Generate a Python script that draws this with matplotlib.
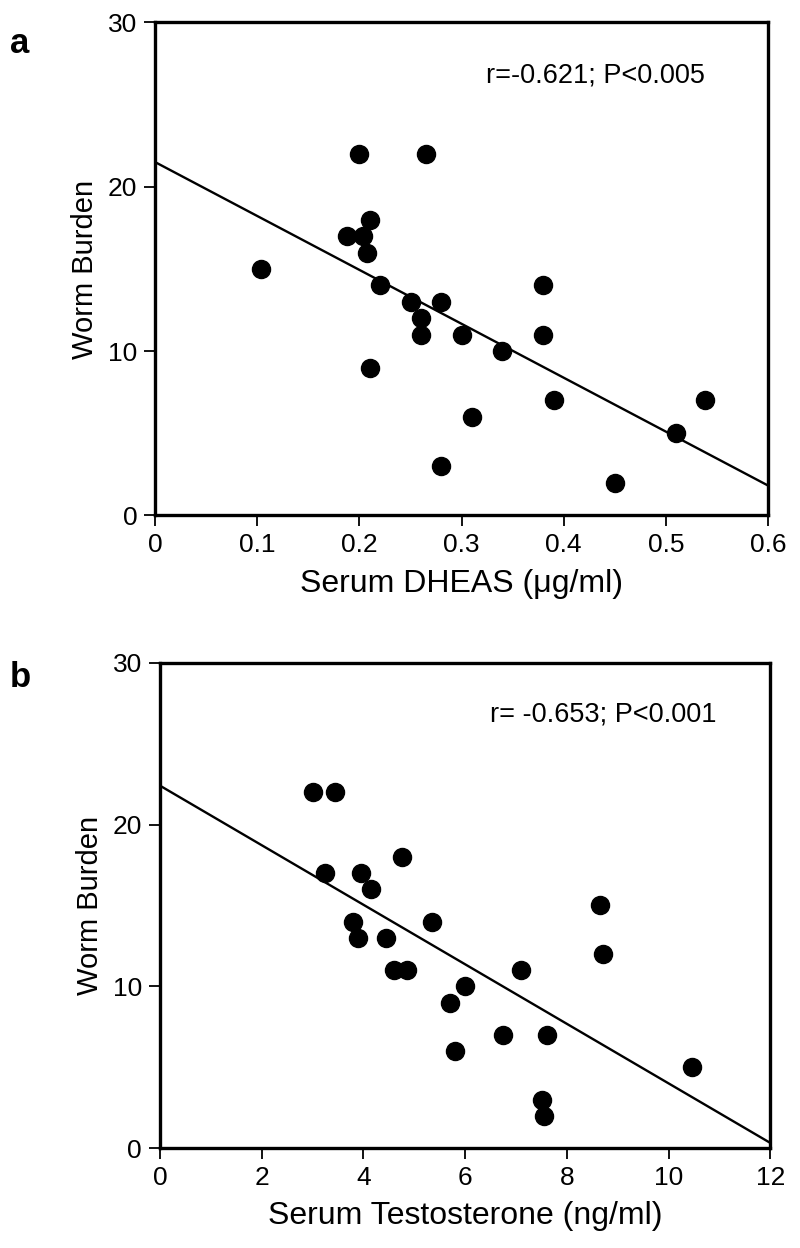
import numpy as np
import matplotlib.pyplot as plt

plt.rcParams['font.family'] = ['Liberation Sans', 'DejaVu Sans']

# panel a: DHEAS vs worm burden
dheas = [0.20, 0.265, 0.21, 0.188, 0.203, 0.207, 0.104, 0.22, 0.25, 0.28, 0.26, 0.26,
         0.30, 0.38, 0.38, 0.34, 0.21, 0.39, 0.538, 0.31, 0.51, 0.28, 0.45]
worm_a = [22, 22, 18, 17, 17, 16, 15, 14, 13, 13, 12, 11,
          11, 14, 11, 10, 9, 7, 7, 6, 5, 3, 2]
fit_a = (21.5, -32.8)   # intercept, slope
text_a = "r=-0.621; P<0.005"

# panel b: testosterone vs worm burden
testo = [3.0, 3.45, 3.25, 3.95, 4.75, 4.15, 3.8, 3.9, 4.45, 5.35, 4.6, 4.85,
         5.7, 6.0, 7.1, 8.65, 8.7, 5.8, 6.75, 7.6, 7.5, 7.55, 10.45]
worm_b = [22, 22, 17, 17, 18, 16, 14, 13, 13, 14, 11, 11,
          9, 10, 11, 15, 12, 6, 7, 7, 3, 2, 5]
fit_b = (22.4, -1.84)
text_b = "r= -0.653; P<0.001"

xticks_a = [0, 0.1, 0.2, 0.3, 0.4, 0.5, 0.6]
xticks_b = [0, 2, 4, 6, 8, 10, 12]
yticks = [0, 10, 20, 30]

fig = plt.figure(figsize=(8, 12.48), dpi=100)
ax1 = fig.add_axes([0.194, 0.587, 0.766, 0.395])
ax2 = fig.add_axes([0.200, 0.080, 0.763, 0.389])

def panel(ax, x, y, fit, xt, xlab, txt):
    ax.plot(x, y, 'o', color='black', markersize=13, zorder=3)
    xs = np.array([xt[0], xt[-1]])
    ax.plot(xs, fit[0] + fit[1]*xs, color='black', lw=1.7)
    ax.set_xlim(xt[0], xt[-1])
    ax.set_ylim(0, 30)
    ax.set_xticks(xt)
    ax.set_xticklabels([('%g' % v) for v in xt])
    ax.set_yticks(yticks)
    ax.tick_params(direction='out', length=8, width=1.3, labelsize=19, pad=5)
    for s in ax.spines.values():
        s.set_linewidth(2.4)
    ax.set_xlabel(xlab, fontsize=23, labelpad=8)
    ax.set_ylabel('Worm Burden', fontsize=21, labelpad=6)
    ax.text(0.54, 0.893, txt, transform=ax.transAxes, fontsize=19.5, va='center')

panel(ax1, dheas, worm_a, fit_a, xticks_a, 'Serum DHEAS (\u03bcg/ml)', text_a)
panel(ax2, testo, worm_b, fit_b, xticks_b, 'Serum Testosterone (ng/ml)', text_b)

fig.text(0.012, 0.978, 'a', fontsize=25, fontweight='bold', va='top')
fig.text(0.012, 0.470, 'b', fontsize=25, fontweight='bold', va='top')

fig.savefig('out.png', dpi=100)
